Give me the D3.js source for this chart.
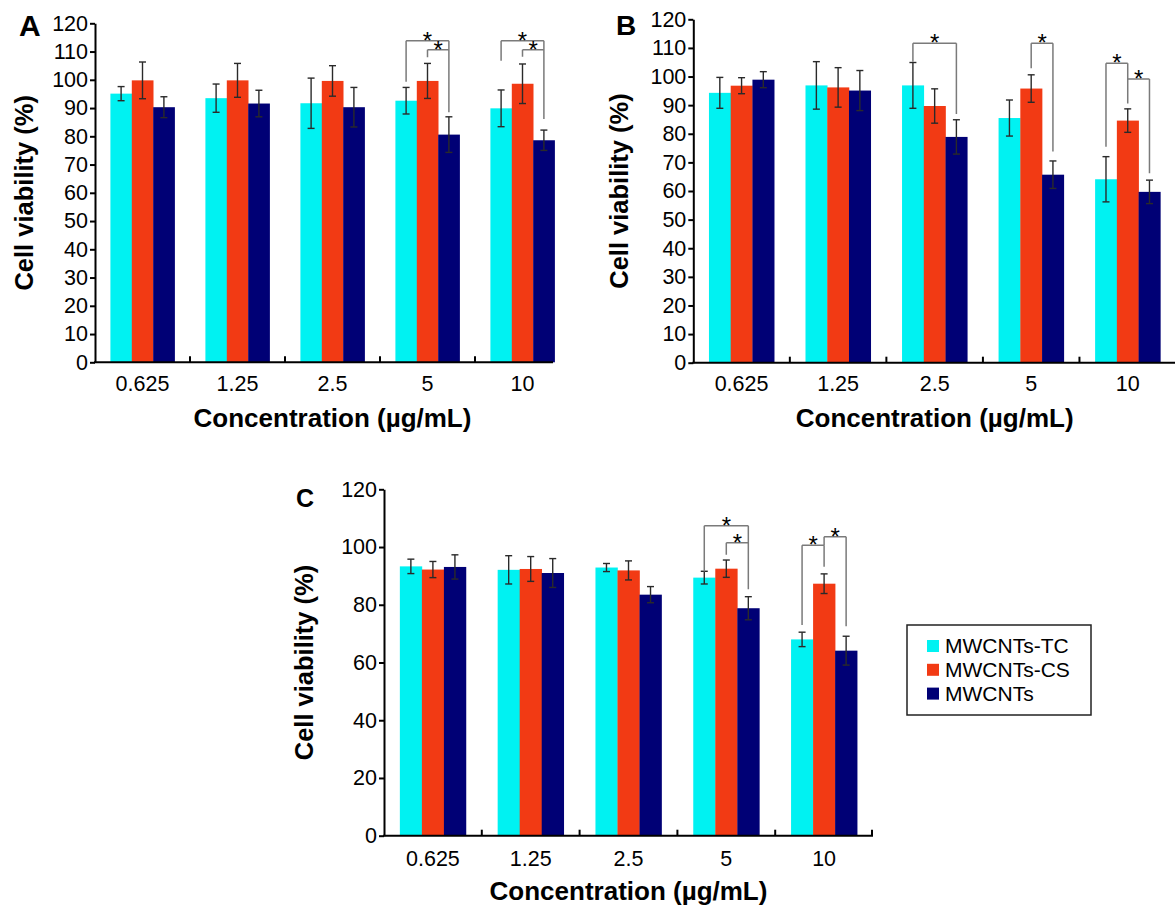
<!DOCTYPE html>
<html><head><meta charset="utf-8">
<script src="https://cdn.jsdelivr.net/npm/d3@7"></script>
<style>body{margin:0;background:#fff}svg{display:block}text{font-family:"Liberation Sans",Arial,Helvetica,sans-serif;fill:#000}</style>
</head><body><svg id="chart" width="1175" height="907"></svg>
<script>
// ---------- data ----------
const categories = ["0.625", "1.25", "2.5", "5", "10"];
const seriesNames = ["MWCNTs-TC", "MWCNTs-CS", "MWCNTs"];
const seriesColors = ["#00F2F2", "#F23A14", "#000075"];

// Panel A
const aTC    = [95.1, 93.5, 91.7, 92.6, 89.9];
const aTCerr = [2.5, 5.0, 8.9, 4.7, 6.5];
const aCS    = [99.8, 99.8, 99.6, 99.6, 98.6];
const aCSerr = [6.5, 6.0, 5.4, 6.2, 7.0];
const aMW    = [90.3, 91.6, 90.3, 80.6, 78.6];
const aMWerr = [3.7, 4.7, 7.0, 6.3, 3.6];
const aTicks = [0, 10, 20, 30, 40, 50, 60, 70, 80, 90, 100, 110, 120];
const aBrackets = [
  {group: "5",  from: 0, to: 2, top: 113.8, leftEnd: 99.3,  rightEnd: 88.5},
  {group: "5",  from: 1, to: 2, top: 110.6, leftEnd: 108.0, rightEnd: null},
  {group: "10", from: 0, to: 2, top: 113.8, leftEnd: 106.7, rightEnd: 86.1},
  {group: "10", from: 1, to: 2, top: 110.6, leftEnd: 108.2, rightEnd: null}
];

// Panel B
const bTC    = [94.3, 96.9, 96.9, 85.5, 64.1];
const bTCerr = [5.4, 8.3, 8.0, 6.3, 7.9];
const bCS    = [96.8, 96.2, 89.7, 95.8, 84.6];
const bCSerr = [2.8, 6.9, 6.0, 4.8, 4.1];
const bMW    = [98.9, 95.1, 78.9, 65.7, 59.7];
const bMWerr = [2.8, 7.0, 6.0, 4.8, 4.1];
const bTicks = [0, 10, 20, 30, 40, 50, 60, 70, 80, 90, 100, 110, 120];
const bBrackets = [
  {group: "2.5", from: 0, to: 2, top: 111.6, leftEnd: 105.2, rightEnd: 86.9},
  {group: "5",   from: 1, to: 2, top: 111.6, leftEnd: 102.9, rightEnd: 73.8},
  {group: "10",  from: 0, to: 1, top: 104.6, leftEnd: 75.5,  rightEnd: 90.6},
  {group: "10",  from: 1, to: 2, top: 99.1,  leftEnd: null,  rightEnd: 66.2}
];

// Panel C
const cTC    = [93.3, 92.1, 92.9, 89.4, 68.0];
const cTCerr = [2.5, 4.9, 1.4, 2.2, 2.5];
const cCS    = [92.2, 92.4, 91.9, 92.5, 87.3];
const cCSerr = [2.8, 4.3, 3.3, 3.0, 3.4];
const cMW    = [93.1, 91.0, 83.5, 78.8, 64.1];
const cMWerr = [4.2, 5.0, 2.8, 4.0, 5.0];
const cTicks = [0, 20, 40, 60, 80, 100, 120];
const cBrackets = [
  {group: "5",  from: 0, to: 2, top: 107.4, leftEnd: 91.5,  rightEnd: 85.4},
  {group: "5",  from: 1, to: 2, top: 101.5, leftEnd: 97.3,  rightEnd: null},
  {group: "10", from: 0, to: 1, top: 100.6, leftEnd: 73.0,  rightEnd: 93.2},
  {group: "10", from: 1, to: 2, top: 103.6, leftEnd: 100.6, rightEnd: 72.6}
];

const xTitle = "Concentration (\u00B5g/mL)";
const yTitle = "Cell viability (%)";

// ---------- layout ----------
const FONT = "'Liberation Sans',Arial,sans-serif";
const panels = [
  {label: "A", vals: [aTC, aCS, aMW], errs: [aTCerr, aCSerr, aMWerr], ticks: aTicks, brackets: aBrackets,
   left: 95, right: 570, axisEnd: 553, top: 23.3, bottom: 362.3, endTick: false,
   labelX: 19, labelY: 36, labelSize: 30, yTitleX: 33, xTitleY: 427, xTickY: 391},
  {label: "B", vals: [bTC, bCS, bMW], errs: [bTCerr, bCSerr, bMWerr], ticks: bTicks, brackets: bBrackets,
   left: 693.3, right: 1176, axisEnd: 1175, top: 19.3, bottom: 362.7, endTick: false,
   labelX: 616, labelY: 35, labelSize: 28, yTitleX: 628, xTitleY: 427, xTickY: 391},
  {label: "C", vals: [cTC, cCS, cMW], errs: [cTCerr, cCSerr, cMWerr], ticks: cTicks, brackets: cBrackets,
   left: 384, right: 873, axisEnd: 873, top: 489.3, bottom: 835.7, endTick: true,
   labelX: 296, labelY: 507, labelSize: 25, yTitleX: 313, xTitleY: 900, xTickY: 866}
];

const svg = d3.select("#chart");

panels.forEach(p => {
  const g = svg.append("g");
  const x = d3.scaleBand().domain(categories).range([p.left, p.right]).padding(0);
  const xs = d3.scaleBand().domain(d3.range(seriesNames.length)).range([0, x.bandwidth()])
    .paddingInner(0).paddingOuter(0.72);
  const y = d3.scaleLinear().domain([0, d3.max(p.ticks)]).range([p.bottom, p.top]);

  // bars
  seriesNames.forEach((s, si) => {
    g.append("g").selectAll("rect").data(categories).join("rect")
      .attr("x", c => x(c) + xs(si))
      .attr("width", xs.bandwidth() + 0.3)
      .attr("y", (c, i) => y(p.vals[si][i]))
      .attr("height", (c, i) => y(0) - y(p.vals[si][i]))
      .attr("fill", seriesColors[si]);
  });

  // error bars
  const capW = 3.5;
  seriesNames.forEach((s, si) => {
    const eg = g.append("g").attr("stroke", "#2a2a2a").attr("stroke-width", 1.4).attr("fill", "none");
    categories.forEach((c, i) => {
      const cx = x(c) + xs(si) + xs.bandwidth() / 2;
      const v = p.vals[si][i], e = p.errs[si][i];
      const y1 = y(v + e), y2 = y(v - e);
      eg.append("line").attr("x1", cx).attr("x2", cx).attr("y1", y1).attr("y2", y2);
      eg.append("line").attr("x1", cx - capW).attr("x2", cx + capW).attr("y1", y1).attr("y2", y1);
      eg.append("line").attr("x1", cx - capW).attr("x2", cx + capW).attr("y1", y2).attr("y2", y2);
    });
  });

  // significance brackets
  const bg = g.append("g");
  p.brackets.forEach(b => {
    const xl = x(b.group) + xs(b.from) + xs.bandwidth() / 2;
    const xr = x(b.group) + xs(b.to) + xs.bandwidth() / 2;
    const yt = y(b.top);
    let d = "M" + xl + "," + yt + "H" + xr;
    if (b.leftEnd !== null) d += "M" + xl + "," + yt + "V" + y(b.leftEnd);
    if (b.rightEnd !== null) d += "M" + xr + "," + yt + "V" + y(b.rightEnd);
    bg.append("path").attr("d", d).attr("fill", "none").attr("stroke", "#7a7a7a").attr("stroke-width", 1.5);
    bg.append("text").attr("x", (xl + xr) / 2).attr("y", yt + 8)
      .attr("text-anchor", "middle").attr("font-size", 24).text("*");
  });

  // y axis
  const ya = g.append("g").attr("transform", "translate(" + p.left + ",0)")
    .call(d3.axisLeft(y).tickValues(p.ticks).tickSize(5).tickSizeOuter(0).tickPadding(2).tickFormat(d3.format("d")));
  ya.selectAll("path,line").attr("stroke", "#000").attr("stroke-width", 2);
  ya.selectAll("text").attr("font-size", 21.5).attr("fill", "#000").style("font-family", FONT);

  // x axis
  const xa = g.append("g").attr("transform", "translate(0," + p.bottom + ")")
    .call(d3.axisBottom(x).tickSize(0).tickPadding(0));
  xa.select(".domain").remove();
  xa.selectAll("text").attr("font-size", 21.5).attr("fill", "#000").attr("dy", 0)
    .attr("y", p.xTickY - p.bottom).style("font-family", FONT);
  g.append("line").attr("x1", p.left - 1).attr("x2", p.axisEnd).attr("y1", p.bottom).attr("y2", p.bottom)
    .attr("stroke", "#000").attr("stroke-width", 2);
  const inner = categories.slice(1).map(c => x(c));
  if (p.endTick) inner.push(p.right - 1);
  g.append("g").selectAll("line").data(inner).join("line")
    .attr("x1", d => d).attr("x2", d => d).attr("y1", p.bottom).attr("y2", p.bottom - 6)
    .attr("stroke", "#000").attr("stroke-width", 2);

  // titles
  g.append("text").attr("x", (p.left + p.right) / 2).attr("y", p.xTitleY)
    .attr("text-anchor", "middle").attr("font-size", 26).attr("font-weight", "bold").text(xTitle);
  g.append("text").attr("transform", "translate(" + p.yTitleX + "," + ((p.top + p.bottom) / 2) + ") rotate(-90)")
    .attr("text-anchor", "middle").attr("font-size", 25.5).attr("font-weight", "bold").text(yTitle);
  g.append("text").attr("x", p.labelX).attr("y", p.labelY)
    .attr("font-size", p.labelSize).attr("font-weight", "bold").text(p.label);
});

// legend
const lg = svg.append("g").attr("transform", "translate(907,625)");
lg.append("rect").attr("width", 184).attr("height", 90).attr("fill", "#fff")
  .attr("stroke", "#222").attr("stroke-width", 1.5);
seriesNames.forEach((s, i) => {
  const cy = 21 + i * 23.8;
  lg.append("rect").attr("x", 20).attr("y", cy - 6).attr("width", 12).attr("height", 12).attr("fill", seriesColors[i]);
  lg.append("text").attr("x", 38).attr("y", cy).attr("dy", "0.35em").attr("font-size", 21).text(s);
});
</script>
</body></html>
